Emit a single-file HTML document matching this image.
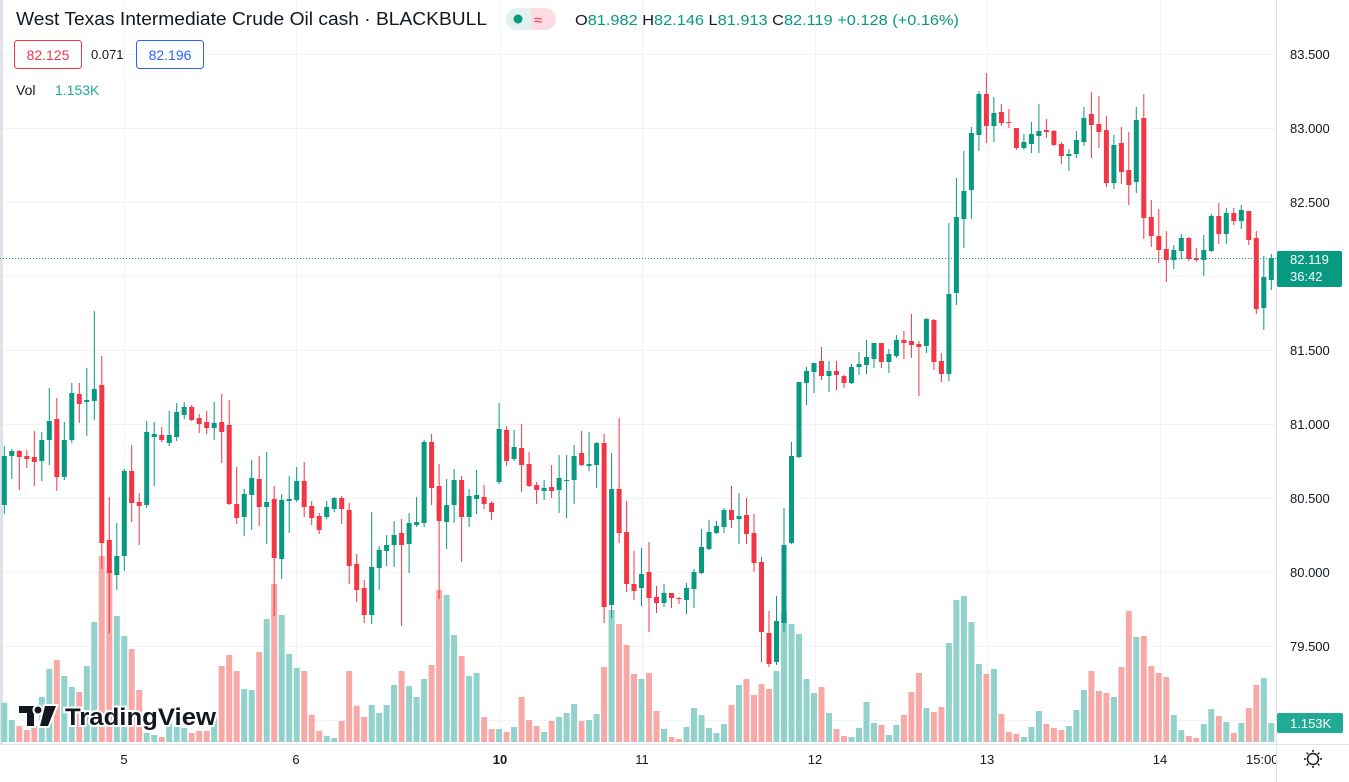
<!DOCTYPE html>
<html><head><meta charset="utf-8"><style>
html,body{margin:0;padding:0;background:#fff;}
body{width:1349px;height:782px;overflow:hidden;position:relative;font-family:"Liberation Sans",sans-serif;}
svg{position:absolute;left:0;top:0;}
</style></head><body>
<svg id="s" width="1349" height="782" xmlns="http://www.w3.org/2000/svg"></svg>
<script>
var C=[
[456,505,446,513,'g'],[451,456,449,478,'g'],[451,457,450,489,'r'],[456,459,450,467,'r'],[457,462,431,485,'r'],[440,461,432,480,'g'],[421,440,388,464,'g'],[419,477,398,490,'r'],[440,477,422,479,'g'],[393,440,383,442,'g'],
[394,404,383,422,'r'],[400,402,368,435,'g'],[389,401,311,419,'g'],[385,543,356,568,'r'],[540,573,497,632,'r'],[556,575,523,589,'g'],[471,556,469,570,'g'],[471,503,445,521,'r'],[502,506,493,544,'r'],[432,505,421,507,'g'],
[434,437,422,485,'g'],[435,440,427,441,'r'],[435,443,411,445,'g'],[412,437,403,440,'g'],[407,415,402,418,'g'],[407,420,405,420,'r'],[418,424,414,432,'r'],[422,428,411,433,'r'],[423,428,402,439,'g'],[422,432,394,462,'r'],
[425,504,400,504,'r'],[504,518,467,523,'r'],[494,517,489,535,'g'],[478,495,460,529,'g'],[479,507,456,525,'r'],[502,507,452,543,'g'],[499,558,486,615,'r'],[500,559,494,578,'g'],[499,501,476,532,'g'],[481,500,467,501,'g'],
[481,507,462,516,'r'],[506,518,501,524,'r'],[516,530,513,533,'r'],[507,517,501,518,'g'],[498,509,497,511,'g'],[498,509,496,523,'r'],[510,566,503,583,'r'],[564,590,554,601,'r'],[588,615,580,622,'r'],[567,615,512,623,'g'],
[550,568,546,589,'g'],[545,551,535,565,'g'],[535,545,521,566,'g'],[533,545,519,625,'r'],[523,544,513,572,'g'],[522,525,497,526,'g'],[442,523,440,526,'g'],[442,488,434,504,'r'],[486,521,464,598,'r'],[505,522,479,548,'g'],
[480,505,469,522,'g'],[480,517,476,561,'r'],[496,517,489,526,'g'],[495,499,470,513,'g'],[497,504,485,508,'r'],[503,512,501,519,'r'],[429,482,403,483,'g'],[430,461,426,465,'r'],[447,459,430,460,'g'],[448,465,424,491,'r'],
[464,486,452,486,'r'],[485,490,482,503,'r'],[488,491,480,499,'g'],[487,491,465,497,'r'],[478,490,455,512,'g'],[480,481,455,517,'g'],[456,480,445,503,'g'],[453,465,431,465,'r'],[464,466,432,470,'g'],[443,465,442,487,'g'],
[443,607,434,622,'r'],[489,605,453,617,'g'],[489,533,418,542,'r'],[532,584,501,591,'r'],[584,591,551,599,'r'],[574,588,548,605,'g'],[572,598,542,631,'r'],[597,603,586,612,'r'],[593,603,584,606,'g'],[593,598,593,607,'r'],
[598,599,597,603,'r'],[588,600,583,613,'g'],[572,589,569,607,'g'],[547,573,529,573,'g'],[532,549,520,549,'g'],[526,533,521,533,'g'],[510,527,508,532,'g'],[510,520,486,527,'r'],[516,519,493,543,'g'],[515,534,498,543,'r'],
[533,563,514,571,'r'],[562,632,557,661,'r'],[633,664,611,666,'r'],[621,662,596,664,'g'],[545,623,508,631,'g'],[456,543,442,543,'g'],[382,457,382,457,'g'],[371,383,367,404,'g'],[363,372,363,392,'g'],[361,376,347,379,'r'],
[371,376,361,391,'g'],[371,375,361,389,'r'],[376,383,375,387,'r'],[367,383,364,383,'g'],[364,367,352,374,'g'],[357,365,340,373,'g'],[343,359,343,367,'g'],[343,362,343,367,'r'],[354,362,349,372,'g'],[340,356,335,357,'g'],
[340,343,331,358,'r'],[341,345,314,357,'r'],[344,347,341,395,'r'],[319,346,318,352,'g'],[320,362,319,369,'r'],[361,374,353,381,'r'],[294,374,223,380,'g'],[217,293,178,304,'g'],[191,219,151,247,'g'],[133,190,127,218,'g'],
[94,135,91,150,'g'],[94,126,73,142,'r'],[113,126,97,141,'g'],[112,123,104,125,'r'],[122,123,109,127,'r'],[128,148,128,149,'r'],[142,148,134,149,'g'],[134,144,122,152,'g'],[131,136,104,152,'g'],[130,132,119,137,'r'],
[131,145,130,145,'r'],[144,156,142,163,'r'],[154,156,149,170,'g'],[140,154,131,157,'g'],[118,142,107,145,'g'],[114,125,92,157,'r'],[124,132,96,147,'r'],[130,183,116,186,'r'],[145,183,135,188,'g'],[143,172,127,183,'r'],
[170,185,132,204,'r'],[120,182,107,192,'g'],[118,218,94,238,'r'],[217,236,200,246,'r'],[236,250,209,262,'r'],[249,260,231,281,'r'],[250,260,245,268,'g'],[238,251,234,258,'g'],[238,259,237,260,'r'],[258,260,248,261,'r'],
[250,260,235,275,'g'],[216,251,214,251,'g'],[216,234,203,243,'r'],[213,234,208,243,'g'],[213,221,208,224,'r'],[210,221,205,228,'g'],[211,240,211,244,'r'],[238,309,231,313,'r'],[277,308,256,329,'g'],[258,280,254,289,'g']];
var V=[458,510,528,540,528,441,357,330,378,411,426,348,216,18,60,198,258,297,420,549,555,561,519,531,534,549,543,543,495,348,315,363,417,420,306,207,102,195,312,354,363,494,543,558,564,513,363,467,501,465,489,465,405,363,408,441,387,345,120,135,255,318,378,369,501,537,537,546,531,441,510,528,546,513,501,489,462,513,510,492,351,180,222,285,372,
387,369,483,537,561,567,531,474,495,534,549,522,465,405,387,435,402,417,363,189,222,252,387,429,411,489,537,558,561,534,456,519,525,555,525,495,426,369,474,486,471,279,150,138,216,342,372,357,492,546,552,561,531,483,522,534,540,528,480,420,363,423,429,441,351,183,261,258,348,369,381,495,540,558,564,522,477,498,516,549,519,474,405,384,519];
var h='';
h+='<rect x="0" y="0" width="3" height="745" fill="#e0e3eb"/>';
var py=[[54,'83.500'],[128,'83.000'],[202,'82.500'],[276,'82.000'],[350,'81.500'],[424,'81.000'],[498,'80.500'],[572,'80.000'],[646,'79.500']];
for(var i=0;i<py.length;i++)h+='<line x1="3" x2="1276" y1="'+(py[i][0]+.5)+'" y2="'+(py[i][0]+.5)+'" stroke="#f0f3fa"/>';
h+='<line x1="3" x2="1276" y1="720.5" y2="720.5" stroke="#f0f3fa"/>';
var vx=[124,296,500,642,815,987,1160];
for(i=0;i<vx.length;i++)h+='<line y1="0" y2="745" x1="'+(vx[i]+.5)+'" x2="'+(vx[i]+.5)+'" stroke="#f0f3fa"/>';
h+='<line x1="1276.5" x2="1276.5" y1="0" y2="782" stroke="#e0e3eb"/>';
h+='<line x1="0" x2="1349" y1="744.5" y2="744.5" stroke="#e0e3eb"/>';
function X(i){return 4.3+i*7.497;}
for(i=0;i<C.length;i++){var t=192-V[i]/3;var x=X(i);
h+='<rect x="'+(x-3).toFixed(1)+'" y="'+(742-t).toFixed(1)+'" width="6" height="'+t.toFixed(1)+'" fill="'+(C[i][4]=='g'?'#92d2cc':'#f7a9a7')+'"/>';}
for(i=0;i<C.length;i++){var c=C[i],x=X(i),col=c[4]=='g'?'#089981':'#f23645';
h+='<rect x="'+(x-0.5).toFixed(1)+'" y="'+c[2]+'" width="1" height="'+(c[3]-c[2]+1)+'" fill="'+col+'"/>';
h+='<rect x="'+(x-2.5).toFixed(1)+'" y="'+c[0]+'" width="5" height="'+Math.max(1,c[1]-c[0])+'" fill="'+col+'"/>';}
h+='<line x1="0" x2="1276" y1="258.5" y2="258.5" stroke="#089981" stroke-dasharray="1 2"/>';
for(i=0;i<py.length;i++)h+='<text x="1290" y="'+(py[i][0]+5)+'" font-size="13" fill="#131722">'+py[i][1]+'</text>';
h+='<rect x="1277" y="251" width="65" height="36" rx="2" fill="#089981"/><text x="1290" y="264" font-size="13" fill="#fff">82.119</text><text x="1290" y="281" font-size="13" fill="#fff">36:42</text>';
h+='<rect x="1277" y="713" width="66" height="20" rx="2" fill="#22ab94"/><text x="1290" y="728" font-size="13" fill="#fff">1.153K</text>';
var tl=[[124,'5'],[296,'6'],[500,'10',1],[642,'11'],[815,'12'],[987,'13'],[1160,'14']];
for(i=0;i<tl.length;i++)h+='<text x="'+tl[i][0]+'" y="764" font-size="13" text-anchor="middle" fill="#131722"'+(tl[i][2]?' font-weight="bold"':'')+'>'+tl[i][1]+'</text>';
h+='<svg x="0" y="745" width="1276" height="37"><text x="1246" y="19" font-size="13" fill="#131722">15:00</text></svg>';
h+='<g transform="translate(1313,759)" stroke="#131722" stroke-width="1.5" fill="none"><circle r="5.5"/>';
for(i=0;i<8;i++){var a=i*Math.PI/4;h+='<line x1="'+(7*Math.cos(a)).toFixed(1)+'" y1="'+(7*Math.sin(a)).toFixed(1)+'" x2="'+(9*Math.cos(a)).toFixed(1)+'" y2="'+(9*Math.sin(a)).toFixed(1)+'"/>';}
h+='</g>';
h+='<g stroke="#fff" stroke-width="4" paint-order="stroke" fill="#131722"><path d="M19 706h15v20h-7v-13h-8z"/><circle cx="38" cy="710" r="3.5"/><path d="M45 706h11l-8 20h-8z"/>';
h+='<text x="65" y="725" font-size="24" font-weight="bold" stroke-width="4" textLength="151" lengthAdjust="spacingAndGlyphs">TradingView</text></g>';
h+='<text x="16" y="25" font-size="18" fill="#131722" textLength="471" lengthAdjust="spacingAndGlyphs">West Texas Intermediate Crude Oil cash · BLACKBULL</text>';
h+='<rect x="506" y="8" width="50" height="22" rx="11" fill="#dff2ef"/><path d="M531 8h14a11 11 0 0 1 0 22h-14z" fill="#fcdbe3"/><circle cx="518" cy="19" r="4.5" fill="#089981"/><text x="538" y="25" font-size="15" fill="#f23645" text-anchor="middle">≈</text>';
h+='<text x="575" y="25" font-size="15" fill="#089981" textLength="384" lengthAdjust="spacingAndGlyphs"><tspan fill="#131722">O</tspan>81.982 <tspan fill="#131722">H</tspan>82.146 <tspan fill="#131722">L</tspan>81.913 <tspan fill="#131722">C</tspan>82.119 +0.128 (+0.16%)</text>';
h+='<rect x="14.5" y="40.5" width="67" height="28" rx="3" fill="#fff" stroke="#f23645"/><text x="48" y="60" font-size="14" fill="#f23645" text-anchor="middle">82.125</text>';
h+='<text x="91" y="59" font-size="13" fill="#131722">0.071</text>';
h+='<rect x="136.5" y="40.5" width="67" height="28" rx="3" fill="#fff" stroke="#2962ff"/><text x="170" y="60" font-size="14" fill="#2962ff" text-anchor="middle">82.196</text>';
h+='<text x="16" y="95" font-size="14" fill="#131722">Vol</text><text x="55" y="95" font-size="14" fill="#22ab94">1.153K</text>';
document.getElementById('s').innerHTML=h;
</script>
</body></html>
